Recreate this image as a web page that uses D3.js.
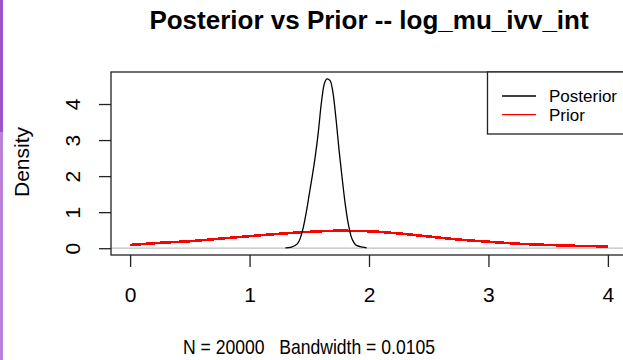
<!DOCTYPE html>
<html>
<head>
<meta charset="utf-8">
<style>
body { margin: 0; background: #fff; }
text { font-family: "Liberation Sans", Arial, sans-serif; fill: #000; }
</style>
</head>
<body>
<script src="https://d3js.org/d3.v7.min.js"></script>
<script>

// density curves
var postX = [1.30, 1.35, 1.40, 1.425, 1.45, 1.475, 1.50, 1.525, 1.55, 1.575, 1.60, 1.625, 1.65, 1.675, 1.70, 1.725, 1.75, 1.775, 1.80, 1.825, 1.85, 1.875, 1.90, 1.95, 1.98];
var postY = [0.01, 0.03, 0.12, 0.28, 0.58, 1.00, 1.50, 2.00, 2.55, 3.20, 4.00, 4.55, 4.70, 4.65, 4.28, 3.55, 2.70, 1.95, 1.25, 0.70, 0.33, 0.15, 0.07, 0.03, 0.01];

var priorX = [0, 0.25, 0.5, 0.75, 1.0, 1.25, 1.5, 1.75, 2.0, 2.25, 2.5, 2.75, 3.0, 3.25, 3.5, 3.75, 4.0];
var priorY = [0.09, 0.15, 0.195, 0.265, 0.335, 0.40, 0.455, 0.485, 0.47, 0.41, 0.325, 0.24, 0.18, 0.125, 0.09, 0.065, 0.05];

var xTicks = [0, 1, 2, 3, 4];
var yTicks = [0, 1, 2, 3, 4];
var seriesNames = ["Posterior", "Prior"];
var seriesColors = ["#000000", "#ff0000"];

var width = 623,
    height = 360;
var pLeft = 111, pRight = 627, pTop = 72, pBottom = 255;

var svg = d3.select("body")
    .append("svg")
    .attr("width", width)
    .attr("height", height);

// purple edge strip
svg.append("rect").attr("x", 0).attr("y", 0).attr("width", 3).attr("height", 132).attr("fill", "#9c55c8");
svg.append("rect").attr("x", 0).attr("y", 132).attr("width", 3).attr("height", height - 132).attr("fill", "#b883d8");

// R style 4% padding of the ranges
var xr = d3.extent(priorX),
    yr = [0, d3.max(postY)];
var xp = (xr[1] - xr[0]) * 0.04,
    yp = (yr[1] - yr[0]) * 0.04;

var x = d3.scaleLinear().domain([xr[0] - xp, xr[1] + xp]).range([pLeft, pRight]);
var y = d3.scaleLinear().domain([yr[0] - yp, yr[1] + yp]).range([pBottom, pTop]);

svg.append("clipPath").attr("id", "plotclip")
    .append("rect").attr("x", pLeft).attr("y", pTop).attr("width", pRight - pLeft).attr("height", pBottom - pTop);

var plot = svg.append("g").attr("clip-path", "url(#plotclip)");

plot.append("line")
    .attr("x1", pLeft).attr("x2", pRight)
    .attr("y1", y(0)).attr("y2", y(0))
    .attr("stroke", "#bebebe").attr("stroke-width", 1.3);

var line = d3.line()
    .x(function(d) { return x(d[0]); })
    .y(function(d) { return y(d[1]); })
    .curve(d3.curveMonotoneX);

plot.append("path")
    .datum(d3.zip(priorX, priorY))
    .attr("d", line)
    .attr("fill", "none")
    .attr("stroke", seriesColors[1])
    .attr("stroke-width", 2.6)
    .attr("shape-rendering", "crispEdges");

plot.append("path")
    .datum(d3.zip(postX, postY))
    .attr("d", line)
    .attr("fill", "none")
    .attr("stroke", seriesColors[0])
    .attr("stroke-width", 1.3);

// box
svg.append("rect")
    .attr("x", pLeft).attr("y", pTop)
    .attr("width", pRight - pLeft).attr("height", pBottom - pTop)
    .attr("fill", "none").attr("stroke", "#222").attr("stroke-width", 1.3);

// axes
var xAxis = svg.append("g")
    .attr("transform", "translate(0," + pBottom + ")")
    .call(d3.axisBottom(x).tickValues(xTicks).tickSize(12).tickFormat(d3.format("d")));
xAxis.select(".domain").remove();
xAxis.selectAll(".tick line").attr("stroke", "#222").attr("stroke-width", 1.3);
xAxis.selectAll(".tick text")
    .attr("y", 47).attr("dy", 0)
    .style("font-size", "21px")
    .style("font-family", "'Liberation Sans', Arial, sans-serif");

var yAxis = svg.append("g")
    .attr("transform", "translate(" + pLeft + ",0)")
    .call(d3.axisLeft(y).tickValues(yTicks).tickSize(12).tickFormat(d3.format("d")));
yAxis.select(".domain").remove();
yAxis.selectAll(".tick line").attr("stroke", "#222").attr("stroke-width", 1.3);
yAxis.selectAll(".tick text")
    .attr("transform", "rotate(-90)")
    .attr("x", 0).attr("y", -31).attr("dy", 0)
    .attr("text-anchor", "middle")
    .style("font-size", "21px")
    .style("font-family", "'Liberation Sans', Arial, sans-serif");

// titles
svg.append("text")
    .attr("x", (pLeft + pRight) / 2).attr("y", 28.5)
    .attr("text-anchor", "middle")
    .style("font-size", "26px").style("font-weight", "bold")
    .text("Posterior vs Prior -- log_mu_ivv_int");

svg.append("text")
    .attr("x", 309).attr("y", 354)
    .attr("text-anchor", "middle")
    .attr("textLength", 252).attr("lengthAdjust", "spacingAndGlyphs")
    .style("font-size", "21px")
    .style("white-space", "pre")
    .text("N = 20000   Bandwidth = 0.0105");

svg.append("text")
    .attr("transform", "translate(28.5,162) rotate(-90)")
    .attr("text-anchor", "middle")
    .style("font-size", "21px")
    .text("Density");

// legend
var lg = svg.append("g");
lg.append("rect")
    .attr("x", 487.5).attr("y", pTop)
    .attr("width", pRight - 487.5).attr("height", 134 - pTop)
    .attr("fill", "#fff").attr("stroke", "#222").attr("stroke-width", 1.3);

var items = lg.selectAll(".item")
    .data(seriesNames)
    .enter().append("g")
    .attr("class", "item")
    .attr("transform", function(d, i) { return "translate(0," + (96 + i * 18.6) + ")"; });

items.append("line")
    .attr("x1", 502).attr("x2", 536)
    .attr("stroke", function(d, i) { return seriesColors[i]; })
    .attr("stroke-width", 1.3);

items.append("text")
    .attr("x", 549).attr("dy", "0.35em")
    .style("font-size", "17px")
    .text(function(d) { return d; });

</script>
</body>
</html>
